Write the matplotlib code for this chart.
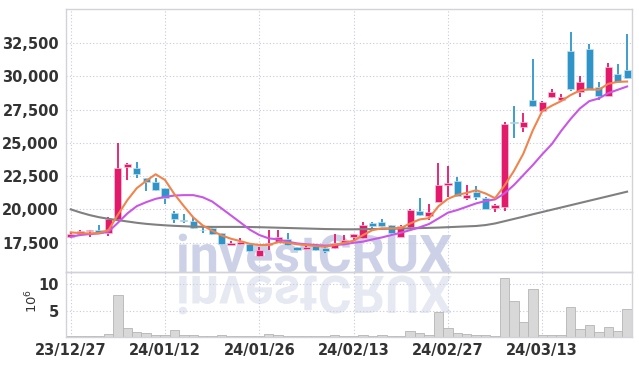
import matplotlib
matplotlib.use('Agg')
import matplotlib.pyplot as plt
from matplotlib.textpath import TextPath
from matplotlib.patches import PathPatch
from matplotlib.font_manager import FontProperties
from matplotlib.transforms import Affine2D

# daily candles, one per trading day
opens = [17900, 18150, 18350, 18450, 18200, 19300, 23200, 23100, 22350, 22100,
         21600, 19750, 19200, 19150, 18470, 18600, 18200, 17350, 17400, 17400,
         16500, 17300, 17580, 17780, 17150, 17000, 17250, 17130, 17080, 17450,
         17900, 17850, 19000, 19080, 18830, 17950, 18700, 19880, 19520, 20600,
         21870, 22150, 20900, 21340, 20880, 20100, 20150, 26580, 26230, 28230,
         27400, 28480, 28230, 31920, 28860, 32050, 29180, 28530, 30190, 30490]
highs = [18300, 18450, 18450, 18850, 19400, 25000, 23500, 23550, 22400, 22350,
         21650, 19850, 19650, 19400, 18700, 18750, 18250, 17650, 17850, 17450,
         17200, 18450, 18450, 18200, 17200, 17250, 17300, 17200, 18130, 18080,
         18150, 19050, 19050, 19250, 18850, 18850, 20000, 20850, 20450, 23500,
         23270, 22450, 21850, 21750, 20950, 20400, 26550, 27750, 27230, 31300,
         28150, 29050, 28650, 33370, 30000, 32450, 29600, 31000, 30920, 33170]
lows = [17850, 18000, 17900, 18200, 18000, 19200, 22250, 22400, 21400, 21400,
        20450, 18950, 19000, 18500, 18250, 18100, 17350, 17350, 17350, 16800,
        16400, 16950, 17530, 17250, 16850, 16950, 16900, 16700, 17000, 17400,
        17650, 17750, 18500, 18700, 18150, 17900, 18600, 19500, 19200, 20550,
        20950, 20950, 20750, 20700, 20000, 19830, 19900, 25350, 25850, 27700,
        27350, 28400, 28100, 28930, 28430, 28950, 28230, 28500, 29480, 29800]
closes = [18150, 18350, 18450, 18250, 19250, 23100, 23450, 22700, 22100, 21450,
          20850, 19300, 19100, 18600, 18430, 18150, 17400, 17500, 17550, 16850,
          16950, 17450, 17900, 17330, 16950, 17180, 16950, 16900, 17500, 17700,
          18130, 18830, 18750, 18760, 18200, 18780, 19950, 19580, 19800, 21850,
          22000, 21000, 21100, 20960, 20060, 20330, 26450, 26530, 26600, 27780,
          28100, 28850, 28480, 29060, 29600, 29000, 28530, 30690, 29610, 29870]

ma_short = [18280, 18220, 18200, 18230, 18450, 19600, 20700, 21600, 22150, 22650,
            22220, 21150, 20250, 19400, 18800, 18400, 18050, 17800, 17620, 17420,
            17330, 17330, 17550, 17500, 17380, 17330, 17250, 17200, 17330, 17500,
            17650, 18080, 18450, 18580, 18580, 18600, 18950, 19250, 19350, 20250,
            20800, 21100, 21250, 21450, 21200, 20850, 21800, 22900, 24200, 25950,
            27400, 27800, 28150, 28600, 28950, 29050, 29000, 29450, 29600, 29620]
ma_mid = [17950, 18080, 18150, 18200, 18330, 19000, 19700, 20250, 20550, 20800,
          20950, 21050, 21080, 21080, 20920, 20600, 20080, 19550, 19020, 18480,
          18080, 17830, 17750, 17580, 17450, 17380, 17330, 17280, 17330, 17380,
          17500, 17580, 17750, 17900, 18080, 18250, 18450, 18660, 18910, 19330,
          19760, 19960, 20210, 20460, 20640, 20760, 21210, 21840, 22590, 23340,
          24150, 24900, 25900, 26800, 27600, 28150, 28350, 28750, 29000, 29250]
ma_long = [20010, 19780, 19580, 19420, 19300, 19200, 19100, 19000, 18920, 18860,
           18810, 18770, 18740, 18710, 18700, 18690, 18690, 18690, 18690, 18680,
           18670, 18650, 18630, 18610, 18590, 18570, 18550, 18530, 18520, 18510,
           18510, 18520, 18530, 18540, 18560, 18570, 18580, 18600, 18620, 18640,
           18670, 18700, 18730, 18760, 18830, 18950, 19120, 19290, 19460, 19640,
           19810, 19980, 20150, 20320, 20490, 20660, 20830, 21000, 21170, 21340]

# volume in millions of shares
volume = [0.05, 0.05, 0.05, 0.1, 0.5, 7.9, 1.6, 0.9, 0.7, 0.3,
          0.3, 1.3, 0.3, 0.3, 0.1, 0.1, 0.3, 0.1, 0.05, 0.05,
          0.1, 0.5, 0.3, 0.1, 0.05, 0.05, 0.1, 0.1, 0.3, 0.1,
          0.1, 0.3, 0.1, 0.3, 0.1, 0.1, 1.0, 0.8, 0.4, 4.8,
          1.7, 0.7, 0.45, 0.3, 0.3, 0.1, 11.3, 6.8, 2.8, 9.1,
          0.4, 0.4, 0.4, 5.6, 1.5, 2.2, 0.9, 1.9, 1.0, 5.2]

date_ticks = [0, 10, 20, 30, 40, 50]
date_labels = ['23/12/27', '24/01/12', '24/01/26', '24/02/13', '24/02/27', '24/03/13']
price_ticks = [17500, 20000, 22500, 25000, 27500, 30000, 32500]
vol_ticks = [5, 10]

UP = '#e3196b'
DOWN = '#2f95c8'
GRID = '#c6c9de'
LABEL_FONT = ['Liberation Sans Narrow', 'DejaVu Sans']

fig = plt.figure(figsize=(6.39, 3.66), dpi=100, facecolor='white')
ax = fig.add_axes([66 / 639, 1 - 272 / 366, 566 / 639, 263 / 366])
axv = fig.add_axes([66 / 639, 1 - 337 / 366, 566 / 639, 65 / 366], sharex=ax)
for a in (ax, axv):
    a.set_facecolor('none')
    for s in a.spines.values():
        s.set_color('#d2d2d8')
        s.set_linewidth(1.0)
    a.grid(True, color=GRID, linestyle=(0, (1, 2)), linewidth=0.8)
    a.set_axisbelow(True)
    a.tick_params(length=0, colors='#333333')

n = len(opens)
idx = list(range(n))

# candles
for i in idx:
    o, h, l, c = opens[i], highs[i], lows[i], closes[i]
    col = UP if c >= o else DOWN
    ax.vlines(i, l, h, color=col, linewidth=1.3, zorder=2)
    body = max(abs(c - o), 60)
    ax.bar(i, body, bottom=min(o, c), width=0.76, color=col,
           edgecolor='#f4c6d8' if col == UP else '#c3e0ef', linewidth=0.5, zorder=3)

ax.plot(idx, ma_long, color='#808080', linewidth=1.5, zorder=4)
ax.plot(idx, ma_mid, color='#c957e6', linewidth=1.5, zorder=4)
ax.plot(idx, ma_short, color='#f0844c', linewidth=1.5, zorder=5)

ax.set_xlim(-0.5, 59.52)
ax.set_ylim(15300, 35075)
ax.set_yticks(price_ticks)
ax.set_yticklabels(['{:,}'.format(p) for p in price_ticks], family=LABEL_FONT,
                   fontsize=10.5, fontweight='bold')
ax.set_xticks(date_ticks)
ax.tick_params(axis='x', labelbottom=False)
ax.tick_params(axis='y', pad=5)

axv.bar(idx, volume, width=1.0, color='#d8d8d8', edgecolor='#b5b5b5', linewidth=0.6, zorder=2)
axv.set_ylim(-0.05, 12.35)
axv.set_yticks(vol_ticks)
axv.set_yticklabels([str(v) for v in vol_ticks], family=LABEL_FONT, fontsize=10.5,
                    fontweight='bold')
axv.set_xticks(date_ticks)
axv.set_xticklabels(date_labels, family=LABEL_FONT, fontsize=10.5, fontweight='bold')
axv.tick_params(axis='y', pad=5)
axv.tick_params(axis='x', pad=4)
fig.text(32 / 639, 1 - 301 / 366, r'$10^6$', rotation=90, ha='center', va='center',
         fontsize=9.5, color='#333333')

# watermark with reflection
wfp = FontProperties(family='Roboto', weight='bold')
tp = TextPath((0, 0), 'investCRUX', size=52, prop=wfp)
main = Affine2D().translate(176, 366 - 272)
refl = Affine2D().scale(1, -1).translate(176, 366 - 276)
fig.patches.append(PathPatch(tp, transform=main, facecolor='#cdd1e7', edgecolor='none',
                             zorder=-1, figure=fig))
fig.patches.append(PathPatch(tp, transform=refl, facecolor='#e6e8f2', edgecolor='none',
                             zorder=-1, figure=fig))

fig.savefig('out.png', dpi=100, facecolor='white')
